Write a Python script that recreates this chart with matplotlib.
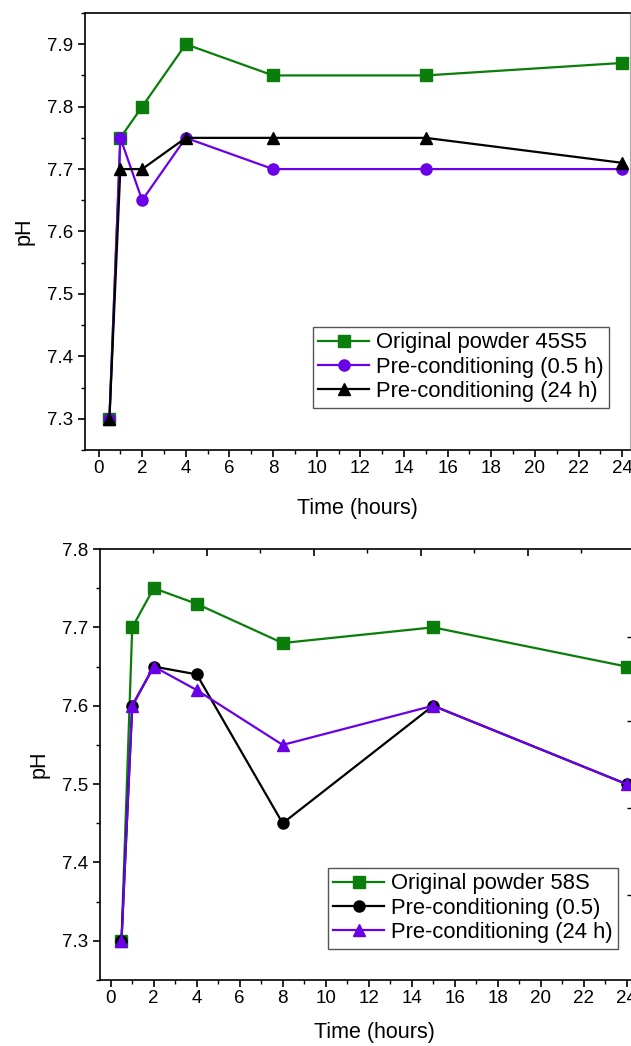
import numpy as np
import matplotlib
matplotlib.use("Agg")
import matplotlib.pyplot as plt
from matplotlib.ticker import MultipleLocator

plt.rcParams['font.family'] = ['Liberation Sans', 'DejaVu Sans']

# sampling times (hours)
time_h = [0.5, 1, 2, 4, 8, 15, 24]

# 45S5 glass
ph_45s5_original = [7.30, 7.75, 7.80, 7.90, 7.85, 7.85, 7.87]
ph_45s5_pre05 = [7.30, 7.75, 7.65, 7.75, 7.70, 7.70, 7.70]
ph_45s5_pre24 = [7.30, 7.70, 7.70, 7.75, 7.75, 7.75, 7.71]

# 58S glass
ph_58s_original = [7.30, 7.70, 7.75, 7.73, 7.68, 7.70, 7.65]
ph_58s_pre05 = [7.30, 7.60, 7.65, 7.64, 7.45, 7.60, 7.50]
ph_58s_pre24 = [7.30, 7.60, 7.65, 7.62, 7.55, 7.60, 7.50]

# leftover tick marks of the cropped neighbouring panels
top_axis_long = [4.46, 9.44, 14.42, 19.40]
top_axis_short = [1.97, 6.95, 11.93, 16.91, 21.89]
neighbour_ticks = [7.688, 7.580, 7.469, 7.358]

GREEN = '#0b7d0b'
PURPLE = '#6a00e8'
BLACK = '#000000'

W, H = 631, 1046
fig = plt.figure(figsize=(W / 100, H / 100), dpi=100)


def style_axes(ax, xlabelpad):
    for side in ['left', 'bottom', 'top', 'right']:
        ax.spines[side].set_linewidth(1.2)
    ax.tick_params(axis='both', which='major', direction='out', length=5,
                   width=1.2, labelsize=13.5, pad=2)
    ax.tick_params(axis='y', which='major', pad=3.5)
    ax.tick_params(axis='both', which='minor', direction='out', length=3,
                   width=1.0)
    ax.tick_params(top=False, right=False)
    ax.xaxis.set_major_locator(MultipleLocator(2))
    ax.xaxis.set_minor_locator(MultipleLocator(1))
    ax.yaxis.set_major_locator(MultipleLocator(0.1))
    ax.yaxis.set_minor_locator(MultipleLocator(0.05))
    ax.yaxis.set_major_formatter(plt.FormatStrFormatter('%.1f'))
    ax.set_xlabel('Time (hours)', fontsize=15.5, labelpad=xlabelpad)
    ax.set_ylabel('pH', fontsize=15.5, labelpad=9)


def legend(ax, x, y):
    leg = ax.legend(loc='upper left', bbox_to_anchor=(x / W, 1 - y / H),
                    bbox_transform=fig.transFigure, fontsize=15.8,
                    frameon=True, fancybox=False, framealpha=1,
                    edgecolor='#555555', borderpad=0.25, labelspacing=0.15,
                    handlelength=2.3, handletextpad=0.3, borderaxespad=0,
                    numpoints=1)
    leg.get_frame().set_linewidth(1.0)


line_kw = dict(linewidth=1.6, markersize=8)

# top panel: 45S5
ax1 = fig.add_axes([85 / W, 1 - 450 / H, (630 - 85) / W, (450 - 13) / H])
ax1.plot(time_h, ph_45s5_original, '-s', color=GREEN,
         label='Original powder 45S5', **line_kw)
ax1.plot(time_h, ph_45s5_pre05, '-o', color=PURPLE,
         label='Pre-conditioning (0.5 h)', **line_kw)
ax1.plot(time_h, ph_45s5_pre24, '-^', color=BLACK,
         label='Pre-conditioning (24 h)', **line_kw)
ax1.set_xlim(-0.62, 24.36)
ax1.set_ylim(7.25, 7.95)
style_axes(ax1, 15)
ax1.spines['right'].set_color('#aaaaaa')
ax1.spines['right'].set_linewidth(0.8)
legend(ax1, 313, 327)

# bottom panel: 58S
ax2 = fig.add_axes([100 / W, 1 - 980 / H, (648 - 100) / W, (980 - 549) / H])
ax2.plot(time_h, ph_58s_original, '-s', color=GREEN,
         label='Original powder 58S', **line_kw)
ax2.plot(time_h, ph_58s_pre05, '-o', color=BLACK,
         label='Pre-conditioning (0.5)', **line_kw)
ax2.plot(time_h, ph_58s_pre24, '-^', color=PURPLE,
         label='Pre-conditioning (24 h)', **line_kw)
ax2.set_xlim(-0.5, 25.0)
ax2.set_ylim(7.25, 7.8)
style_axes(ax2, 11)
legend(ax2, 328, 868)

sec = ax2.secondary_xaxis('top')
sec.set_xticks(top_axis_long)
sec.set_xticks(top_axis_short, minor=True)
sec.tick_params(which='major', direction='in', length=5, width=1.2,
                labeltop=False)
sec.tick_params(which='minor', direction='in', length=3, width=1.0)
sec.spines['top'].set_visible(False)

# neighbouring panel's tick marks poking in at the right edge
ax3 = fig.add_axes([633 / W, 1 - 980 / H, 0.05, (980 - 549) / H])
ax3.set_ylim(7.25, 7.8)
ax3.set_yticks(neighbour_ticks)
ax3.tick_params(axis='y', direction='out', length=4.5, width=1.0,
                labelleft=False)
ax3.set_xticks([])
for s in ax3.spines.values():
    s.set_visible(False)
ax3.patch.set_visible(False)

fig.savefig('out.png', dpi=100)
